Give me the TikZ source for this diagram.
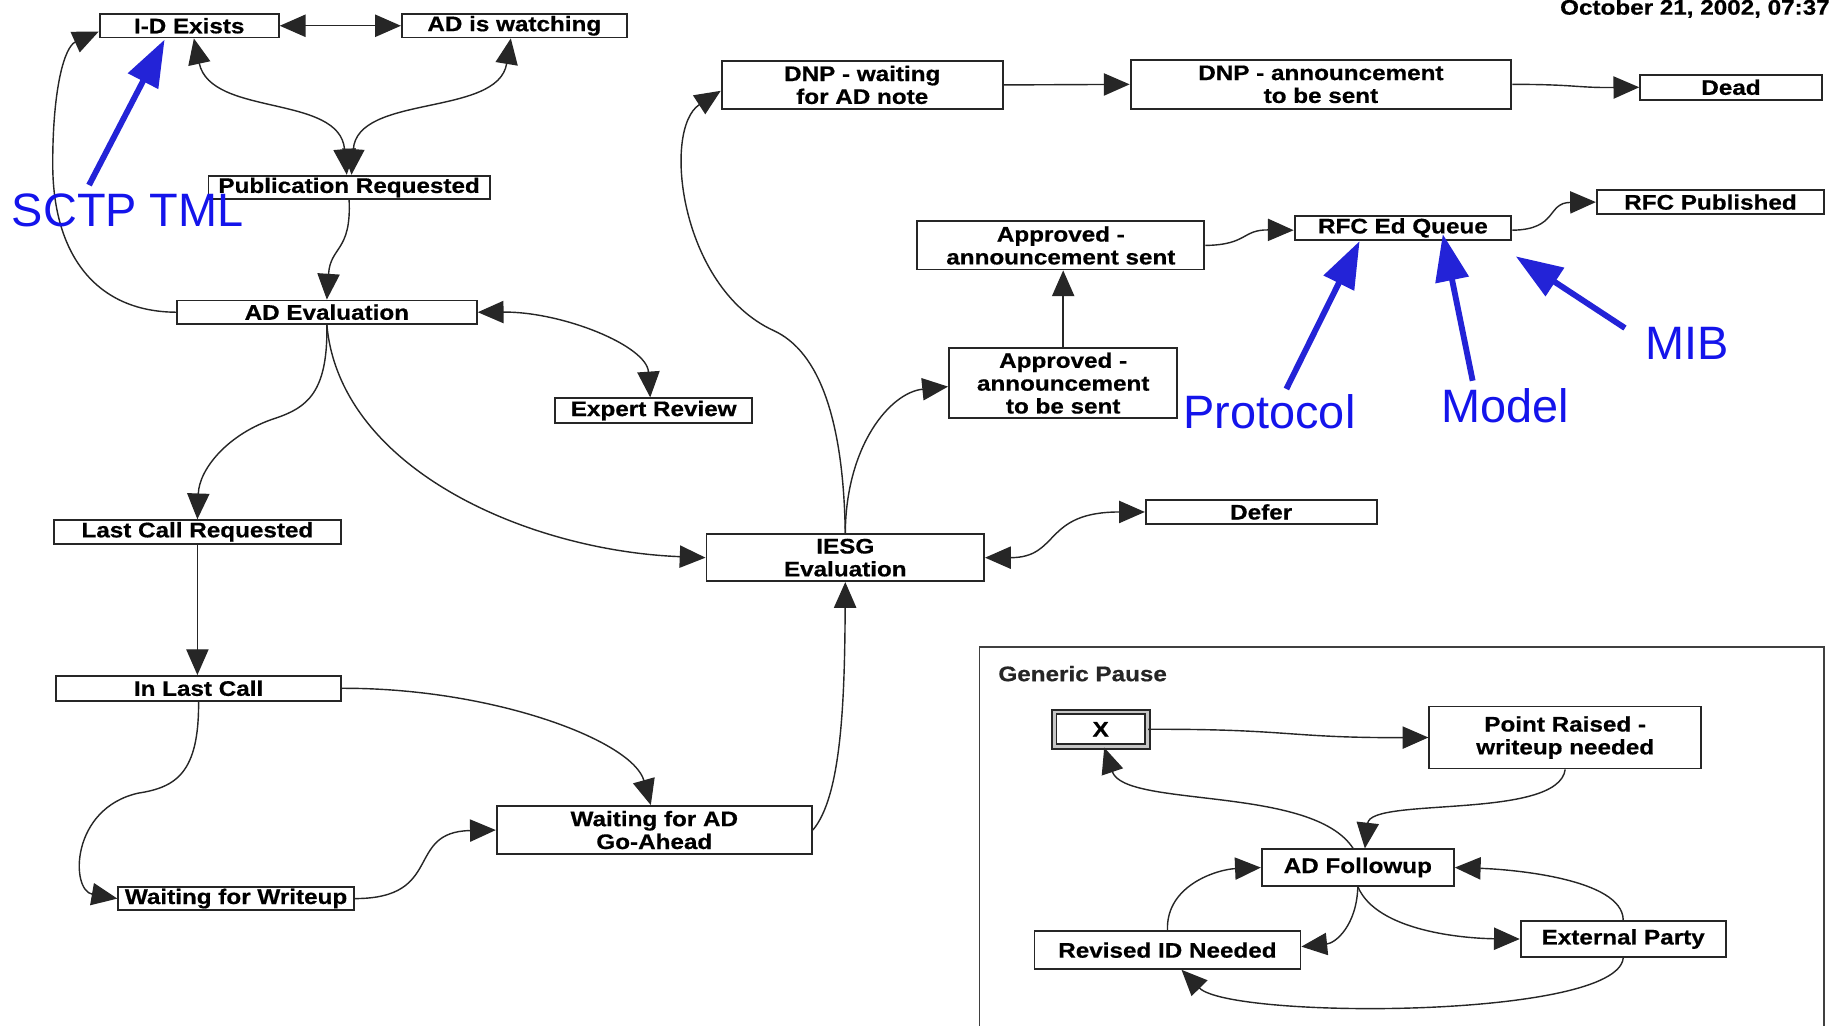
\documentclass[tikz,border=0pt]{standalone}
\usepackage{fontspec}
\setmainfont{Liberation Sans}
\newfontfamily\bxfont{Liberation Sans}[FakeStretch=1.15,FakeBold=0.6]
\usetikzlibrary{arrows.meta}
\definecolor{annblue}{RGB}{20,20,235}
\definecolor{arrblue}{RGB}{35,35,215}
\begin{document}
\begin{tikzpicture}[x=1pt,y=-1pt,
  box/.style={draw=black!85, line width=1.6pt, fill=white, inner sep=0pt, align=center,
    font=\bxfont\bfseries\fontsize{18}{19.5}\selectfont},
  conn/.style={line width=1.2pt, draw=black!85, -{Triangle[length=22pt,width=19pt]}},
  bconn/.style={line width=1.2pt, draw=black!85, {Triangle[length=22pt,width=19pt]}-{Triangle[length=22pt,width=19pt]}},
  ann/.style={text=annblue, font=\fontsize{40}{44}\selectfont, inner sep=0pt},
  annarrow/.style={draw=arrblue, line width=5pt, -{Triangle[length=40pt,width=28pt]}}
]
\useasboundingbox[fill=white] (0,0) rectangle (1568,875);

% date
\node[anchor=base east, inner sep=0pt, font=\bxfont\bfseries\fontsize{18}{20}\selectfont] (date) at (1562,12.5) {October 21, 2002, 07:37};

% main nodes
\node[box, minimum width=153, minimum height=20] (ide) at (161.5,22) {I-D Exists};
\node[box, minimum width=192, minimum height=20] (adw) at (439,22) {AD is watching};
\node[box, minimum width=240, minimum height=20] (pub) at (298,160) {Publication Requested};
\node[box, minimum width=256, minimum height=20] (ade) at (279,266.5) {AD Evaluation};
\node[box, minimum width=168, minimum height=21] (exp) at (558,350.5) {Expert Review};
\node[box, minimum width=245, minimum height=20] (lcr) at (168.5,454) {Last Call Requested};
\node[box, minimum width=243, minimum height=21] (ilc) at (169.5,587.5) {In Last Call};
\node[box, minimum width=201, minimum height=20] (wfw) at (201.5,767) {Waiting for Writeup};
\node[box, minimum width=269, minimum height=41] (wga) at (558.5,708.5) {Waiting for AD\\Go-Ahead};
\node[box, minimum width=237, minimum height=40] (iesg) at (721.5,476) {IESG\\Evaluation};
\node[box, minimum width=197, minimum height=20] (defer) at (1076.5,437) {Defer};
\node[box, minimum width=195, minimum height=60] (ats) at (907.5,327) {Approved -\\announcement\\to be sent};
\node[box, minimum width=245, minimum height=41] (as) at (905.5,209.5) {Approved -\\announcement sent};
\node[box, minimum width=240, minimum height=41] (dnpw) at (736,72.5) {DNP - waiting\\for AD note};
\node[box, minimum width=325, minimum height=42] (dnpa) at (1127.5,72) {DNP - announcement\\to be sent};
\node[box, minimum width=155, minimum height=21] (dead) at (1477.5,74.5) {Dead};
\node[box, minimum width=185, minimum height=21] (rfcq) at (1197.5,194.5) {RFC Ed Queue};
\node[box, minimum width=194, minimum height=21] (rfcp) at (1460,172.5) {RFC Published};

% generic pause frame
\node[draw=black!75, line width=1.5pt, minimum width=721, minimum height=325, inner sep=0pt] (gpframe) at (1196.5,714.5) {};
\node[anchor=west, inner sep=0pt, text=black!85, font=\bxfont\bfseries\fontsize{18}{20}\selectfont] (gplabel) at (852,575) {Generic Pause};
\node[box, draw=black!85, double=gray!45, double distance=2.5pt, line width=1.6pt, minimum width=79.5, minimum height=29.5] (xbox) at (939.5,622.5) {X};
\node[box, minimum width=232, minimum height=53] (prw) at (1336,629.5) {Point Raised -\\writeup needed};
\node[box, minimum width=164, minimum height=31] (adf) at (1159,740.5) {AD Followup};
\node[box, minimum width=227, minimum height=32] (rid) at (996.5,811) {Revised ID Needed};
\node[box, minimum width=175, minimum height=31] (ext) at (1385.5,801.5) {External Party};

% connectors
\draw[bconn] (ide.east) -- (adw.west);
\draw[bconn] ([xshift=4pt]ide.south) .. controls (180,100) and (290,80) .. ([xshift=-2pt]pub.north);
\draw[bconn] ([xshift=-3pt]adw.south) .. controls (425,100) and (305,80) .. ([xshift=2pt]pub.north);
\draw[conn] (pub.south) .. controls (300,215) and (282,210) .. (ade.north);
\draw[conn] (ade.west) .. controls (80,266) and (45,215) .. (45,140) .. controls (45,75) and (55,40) .. ([yshift=-5pt]ide.west);
\draw[bconn] (ade.east) .. controls (480,266) and (552,295) .. ([xshift=-3pt]exp.north);
\draw[conn] (ade.south) .. controls (280,335) and (262,348) .. (235,357) .. controls (195,370) and (170,400) .. (lcr.north);
\draw[conn] (ade.south) .. controls (290,400) and (450,470) .. (iesg.west);
\draw[conn] (lcr.south) -- (lcr.south |- ilc.north);
\draw[conn] (ilc.east) .. controls (420,587) and (540,632) .. ([xshift=-3pt]wga.north);
\draw[conn] (ilc.south) .. controls (170,660) and (150,672) .. (118,677) .. controls (60,690) and (60,760) .. (wfw.west);
\draw[conn] (wfw.east) .. controls (380,767) and (345,710) .. (wga.west);
\draw[conn] (wga.east) .. controls (718,680) and (721,600) .. (iesg.south);
\draw[conn] (iesg.north) .. controls (720,360) and (700,300) .. (660,282) .. controls (580,245) and (565,110) .. ([yshift=-5pt]dnpw.west);
\draw[conn] (iesg.north) .. controls (722,380) and (760,335) .. ([yshift=-3pt]ats.west);
\draw[bconn] (iesg.east) .. controls (905,476) and (890,437) .. (defer.west);
\draw[conn] (ats.north) -- (ats.north |- as.south);
\draw[conn] (as.east) .. controls (1065,209) and (1060,196) .. ([yshift=-2pt]rfcq.west);
\draw[conn] ([yshift=-2pt]rfcq.east) .. controls (1330,196) and (1320,173) .. (rfcp.west);
\draw[conn] (dnpw.east) -- (dnpa.west);
\draw[conn] (dnpa.east) .. controls (1345,72) and (1345,75) .. (dead.west);

% generic pause connectors
\draw[conn] (xbox.east) .. controls (1100,622) and (1100,630) .. (prw.west);
\draw[conn] (prw.south) .. controls (1330,700) and (1170,680) .. ([xshift=6pt]adf.north);
\draw[conn] ([xshift=-4pt]adf.north) .. controls (1120,670) and (960,690) .. ([xshift=3pt]xbox.south);
\draw[conn] (adf.south) .. controls (1158,790) and (1140,805) .. ([yshift=3pt]rid.east);
\draw[conn] (rid.north) .. controls (995,755) and (1040,742) .. (adf.west);
\draw[conn] (adf.south) .. controls (1175,795) and (1250,801) .. (ext.west);
\draw[conn] (ext.north) .. controls (1385,750) and (1290,742) .. (adf.east);
\draw[conn] (ext.south) .. controls (1380,870) and (1050,870) .. ([xshift=12pt]rid.south);

% blue annotations
\node[ann, anchor=base west] (sctp) at (10,193) {SCTP TML};
\node[ann, anchor=base west] (proto) at (1010,366) {Protocol};
\node[ann, anchor=base west] (model) at (1230,361) {Model};
\node[ann, anchor=base west] (mib) at (1404,307) {MIB};
\coordinate (sctpT) at (76,158);
\coordinate (protoT) at (1098,332);
\coordinate (modelT) at (1257,325);
\coordinate (mibT) at (1387,280);
\draw[annarrow] (sctpT) -- ([xshift=-21pt,yshift=-1pt]ide.south);
\draw[annarrow] (protoT) -- ([xshift=-37pt]rfcq.south);
\draw[annarrow] (modelT) -- ([xshift=34pt,yshift=6pt]rfcq.south);
\draw[annarrow] (mibT) -- ([xshift=3pt,yshift=-13pt]rfcq.south east);
\end{tikzpicture}
\end{document}
